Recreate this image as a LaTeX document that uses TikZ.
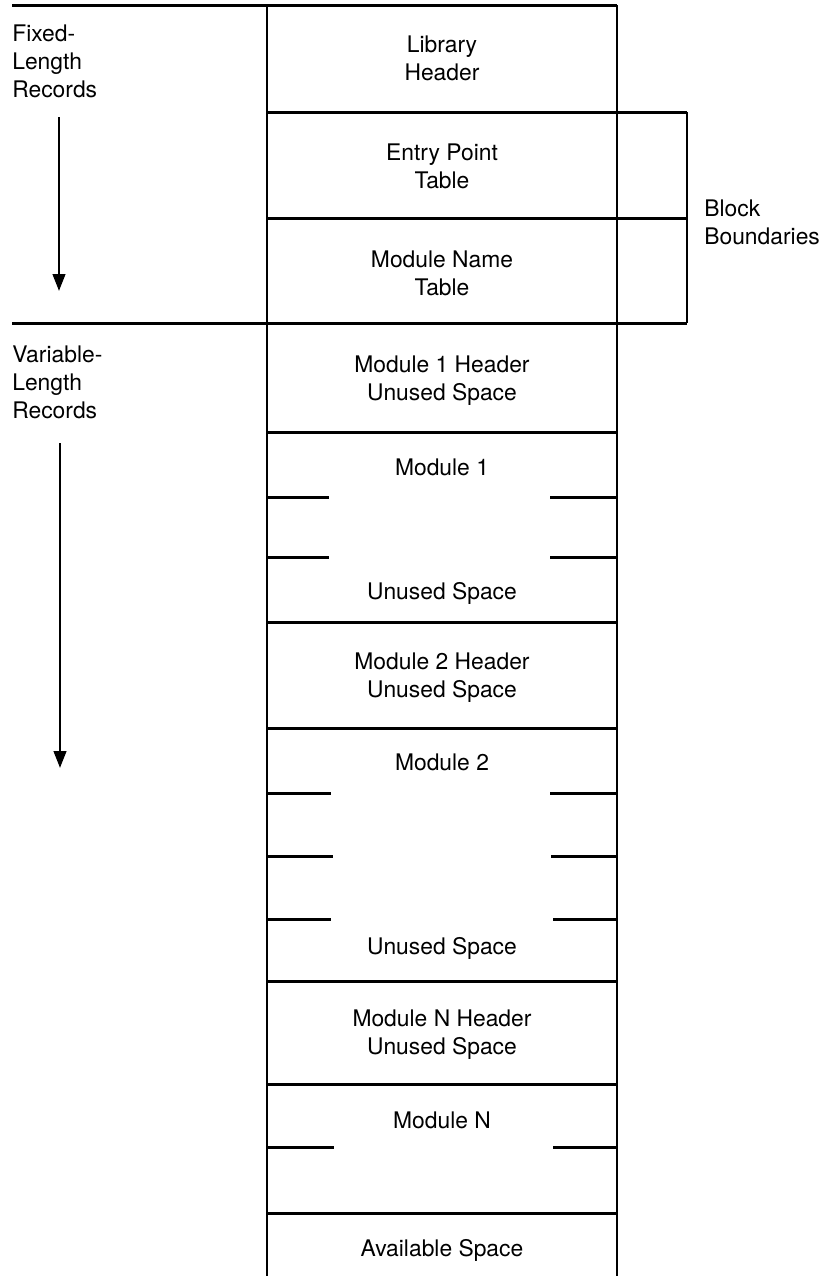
\documentclass[tikz,border=0pt]{standalone}
\usepackage{fontspec}
\setmainfont{TeX Gyre Heros}
\usetikzlibrary{arrows.meta,positioning}

\begin{document}
\begin{tikzpicture}[x=0.02cm,y=-0.02cm,font=\fontsize{13}{16}\selectfont]
  \tikzset{rec/.style={align=center,inner sep=0pt},
    side/.style={align=left,anchor=west,inner sep=0pt},
    rule/.style={line width=1.7pt},
    flow/.style={line width=1.5pt,-{Triangle[length=3.4mm,width=2.5mm]}}}
  \useasboundingbox (0,0) rectangle (820,1276);
  % library column
  \draw[rule] (267,5) -- (267,1276) (617,5) -- (617,1276);
  \draw[rule] (12,5) -- (617,5);
  \draw[rule] (267,112) -- (687,112) (267,218) -- (687,218) (12,323) -- (687,323);
  \draw[rule] (687,112) -- (687,323);
  \draw[rule] (267,432) -- (617,432) (267,622) -- (617,622) (267,728) -- (617,728)
    (267,981) -- (617,981) (267,1084) -- (617,1084) (267,1213) -- (617,1213);
  % broken lines inside the modules
  \draw[rule] (267,497) -- (329,497) (550,497) -- (617,497)
    (267,557) -- (329,557) (550,557) -- (617,557);
  \draw[rule] (267,793) -- (331,793) (550,793) -- (617,793)
    (267,856) -- (333,856) (551,856) -- (617,856)
    (267,919) -- (331,919) (553,919) -- (617,919);
  \draw[rule] (267,1147) -- (334,1147) (553,1147) -- (617,1147);

  \node[rec] (libhdr) at (442,58) {Library\\Header};
  \node[rec] (entry) at (442,166) {Entry Point\\Table};
  \node[rec] (names) at (442,273) {Module Name\\Table};
  \node[rec] (hdr1) at (442,381) {Module 1 Header\\Unused Space};
  \node[rec] (mod1) at (442,467) {Module 1};
  \node[rec] (free1) at (442,593) {Unused Space};
  \node[rec] (hdr2) at (442,678) {Module 2 Header\\Unused Space};
  \node[rec] (mod2) at (442,762) {Module 2};
  \node[rec] (free2) at (442,948) {Unused Space};
  \node[rec] (hdrn) at (442,1035) {Module N Header\\Unused Space};
  \node[rec] (modn) at (442,1120) {Module N};
  \node[rec] (avail) at (442,1250) {Available Space};

  \node[side] (blocks) at (704,222) {Block\\Boundaries};
  \node[side] (fixed) at (12,61) {Fixed-\\Length\\Records};
  \node[side] (varlen) at (12,382) {Variable-\\Length\\Records};

  \coordinate (fixtop) at (59,117);
  \coordinate (fixend) at (59,291);
  \coordinate (vartop) at (60,443);
  \coordinate (varend) at (60,768);
  \draw[flow] (fixtop) -- (fixend);
  \draw[flow] (vartop) -- (varend);
\end{tikzpicture}
\end{document}
